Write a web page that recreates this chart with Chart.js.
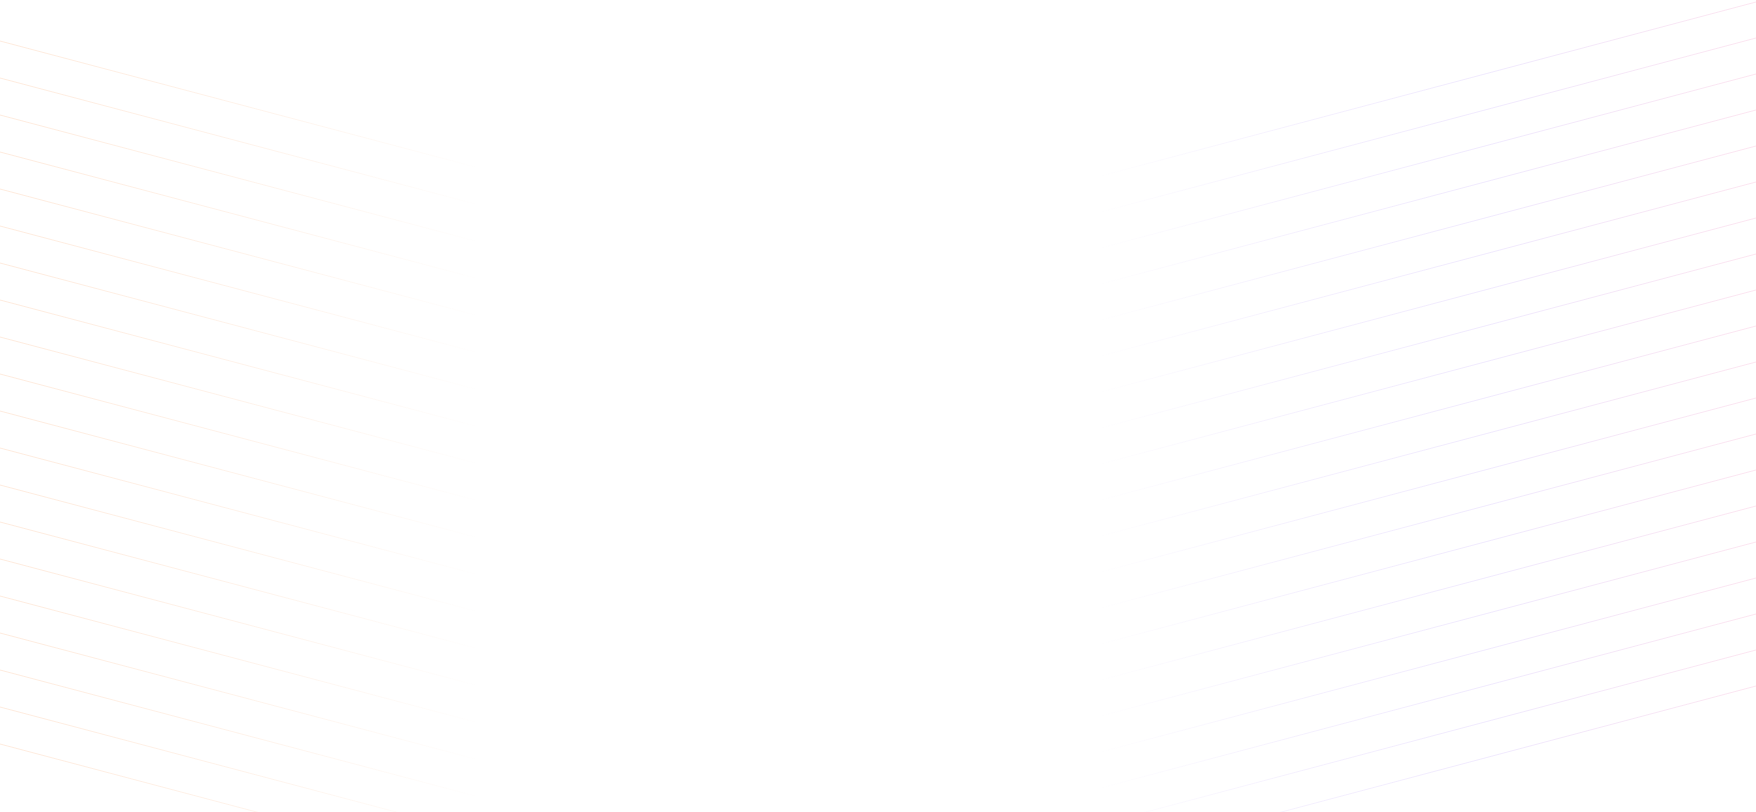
<!DOCTYPE html>
<html>
<head>
<meta charset="utf-8">
<script src="https://cdn.jsdelivr.net/npm/chart.js@4/dist/chart.umd.min.js"></script>
<style>
  html, body { margin: 0; padding: 0; background: #ffffff; }
  #wrap { width: 1756px; height: 812px; position: relative; }
</style>
</head>
<body>
<div id="wrap"><canvas id="c"></canvas></div>
<script>
// Left family of lines (descending to the right): y at x = leftX[0] and leftX[1]
const leftX = [0, 483];
const leftStartY = [41, 78, 115, 152, 189, 226, 263, 300, 337, 374, 411, 448, 485, 522, 559, 596, 633, 670, 707, 744];
const leftEndY   = [169, 206, 243, 280, 317, 354, 391, 428, 465, 502, 539, 576, 613, 650, 687, 724, 761, 798, 835, 872];

// Right family of lines (ascending to the right): y at x = rightX[0] and rightX[1]
const rightX = [1097, 1756];
const rightStartY = [177, 213, 249, 285, 321, 357, 393, 429, 465, 501, 537, 573, 609, 645, 681, 717, 753, 789, 825, 861];
const rightEndY   = [2, 38, 74, 110, 146, 182, 218, 254, 290, 326, 362, 398, 434, 470, 506, 542, 578, 614, 650, 686];

const xRange = [0, 1756];
const yRange = [0, 812];

function leftGradient(context) {
  const chart = context.chart;
  const { ctx, chartArea, scales } = chart;
  if (!chartArea) return 'rgba(249,115,22,0.12)';
  const x0 = scales.x.getPixelForValue(leftX[0]);
  const x1 = scales.x.getPixelForValue(leftX[1]);
  const g = ctx.createLinearGradient(x0, 0, x1, 0);
  g.addColorStop(0, 'rgba(249,115,22,0.14)');
  g.addColorStop(0.5, 'rgba(249,115,22,0.085)');
  g.addColorStop(1, 'rgba(249,115,22,0)');
  return g;
}

function rightGradient(context) {
  const chart = context.chart;
  const { ctx, chartArea, scales } = chart;
  if (!chartArea) return 'rgba(139,92,246,0.12)';
  const x0 = scales.x.getPixelForValue(rightX[0]);
  const x1 = scales.x.getPixelForValue(rightX[1]);
  const g = ctx.createLinearGradient(x0, 0, x1, 0);
  g.addColorStop(0, 'rgba(139,92,246,0)');
  g.addColorStop(0.3, 'rgba(139,92,246,0.085)');
  g.addColorStop(0.6, 'rgba(139,92,246,0.13)');
  g.addColorStop(1, 'rgba(236,72,153,0.14)');
  return g;
}

const datasets = [];
leftStartY.forEach((y0, i) => {
  datasets.push({
    data: [{ x: leftX[0], y: y0 }, { x: leftX[1], y: leftEndY[i] }],
    borderColor: leftGradient,
    borderWidth: 1,
    pointRadius: 0,
    showLine: true,
    fill: false
  });
});
rightStartY.forEach((y0, i) => {
  datasets.push({
    data: [{ x: rightX[0], y: y0 }, { x: rightX[1], y: rightEndY[i] }],
    borderColor: rightGradient,
    borderWidth: 1,
    pointRadius: 0,
    showLine: true,
    fill: false
  });
});

new Chart(document.getElementById('c'), {
  type: 'scatter',
  data: { datasets },
  options: {
    responsive: true,
    maintainAspectRatio: false,
    animation: false,
    layout: { padding: 0 },
    plugins: { legend: { display: false }, tooltip: { enabled: false }, title: { display: false } },
    events: [],
    scales: {
      x: { type: 'linear', min: xRange[0], max: xRange[1], display: false },
      y: { type: 'linear', min: yRange[0], max: yRange[1], reverse: true, display: false }
    }
  }
});
</script>
</body>
</html>
